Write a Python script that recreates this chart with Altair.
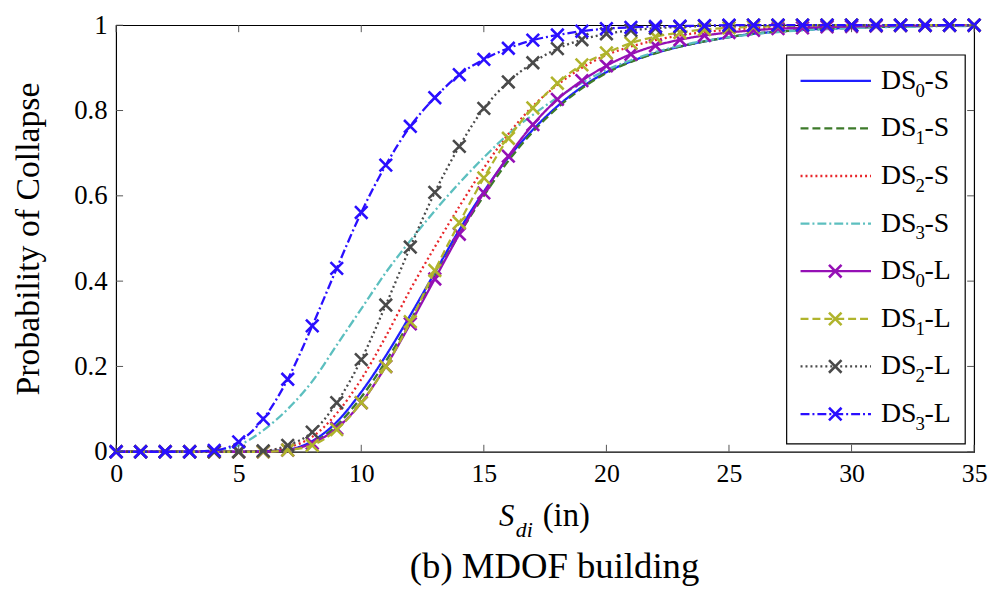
import altair as alt
import pandas as pd

# ---------------- data ----------------
x_vals = list(range(36))
names = ["DS0-S", "DS1-S", "DS2-S", "DS3-S", "DS0-L", "DS1-L", "DS2-L", "DS3-L"]

ds0_s = [0, 0, 0, 0, 0, 0, 0.001, 0.005, 0.025, 0.07, 0.14, 0.225, 0.32, 0.42, 0.52, 0.61, 0.69, 0.755,
         0.81, 0.855, 0.89, 0.915, 0.935, 0.95, 0.962, 0.972, 0.98, 0.985, 0.989, 0.992, 0.994, 0.996,
         0.997, 0.998, 0.999, 0.999]
ds1_s = [0, 0, 0, 0, 0, 0, 0.001, 0.004, 0.02, 0.062, 0.128, 0.212, 0.307, 0.41, 0.51, 0.6, 0.682, 0.75,
         0.806, 0.852, 0.888, 0.914, 0.934, 0.95, 0.962, 0.972, 0.98, 0.985, 0.989, 0.992, 0.994, 0.996,
         0.997, 0.998, 0.999, 0.999]
ds2_s = [0, 0, 0, 0, 0, 0, 0.002, 0.01, 0.035, 0.09, 0.17, 0.27, 0.38, 0.48, 0.575, 0.665, 0.745, 0.81,
         0.86, 0.9, 0.93, 0.95, 0.965, 0.976, 0.984, 0.989, 0.993, 0.995, 0.997, 0.998, 0.999, 0.999,
         1, 1, 1, 1]
ds3_s = [0, 0, 0, 0, 0.003, 0.015, 0.05, 0.1, 0.165, 0.25, 0.335, 0.42, 0.495, 0.565, 0.63, 0.69, 0.745,
         0.79, 0.83, 0.865, 0.895, 0.918, 0.937, 0.952, 0.963, 0.972, 0.979, 0.984, 0.988, 0.991, 0.993,
         0.995, 0.996, 0.997, 0.998, 0.998]
ds0_l = [0, 0, 0, 0, 0, 0, 0, 0.004, 0.02, 0.055, 0.115, 0.2, 0.3, 0.405, 0.51, 0.607, 0.693, 0.767,
         0.826, 0.87, 0.905, 0.932, 0.952, 0.966, 0.976, 0.983, 0.988, 0.992, 0.994, 0.996, 0.997, 0.998,
         0.999, 0.999, 1, 1]
ds1_l = [0, 0, 0, 0, 0, 0, 0, 0.004, 0.015, 0.052, 0.115, 0.2, 0.305, 0.425, 0.537, 0.642, 0.735, 0.806,
         0.864, 0.907, 0.935, 0.958, 0.973, 0.983, 0.99, 0.994, 0.996, 0.998, 0.999, 1, 1, 1, 1, 1, 1, 1]
ds2_l = [0, 0, 0, 0, 0, 0, 0.002, 0.015, 0.046, 0.115, 0.216, 0.344, 0.48, 0.608, 0.716, 0.805, 0.867,
         0.912, 0.945, 0.966, 0.98, 0.988, 0.993, 0.996, 0.998, 0.999, 1, 1, 1, 1, 1, 1, 1, 1, 1, 1]
ds3_l = [0, 0, 0, 0, 0.003, 0.023, 0.077, 0.17, 0.295, 0.43, 0.561, 0.672, 0.763, 0.83, 0.884, 0.92,
         0.946, 0.965, 0.977, 0.986, 0.992, 0.995, 0.997, 0.998, 0.999, 1, 1, 1, 1, 1, 1, 1, 1, 1, 1, 1]

series_values = [ds0_s, ds1_s, ds2_s, ds3_s, ds0_l, ds1_l, ds2_l, ds3_l]
with_markers = [False, False, False, False, True, True, True, True]

legend_base = ["DS"] * 8
legend_sub = ["0", "1", "2", "3", "0", "1", "2", "3"]
legend_suffix = ["-S", "-S", "-S", "-S", "-L", "-L", "-L", "-L"]

x_ticks = [0, 5, 10, 15, 20, 25, 30, 35]
y_ticks = [0, 0.2, 0.4, 0.6, 0.8, 1]

# ---------------- styles ----------------
colors = ["#1f1fff", "#3d7a2a", "#e8262a", "#5cbfbf", "#9510b5", "#b0b42c", "#4a4a4a", "#2a0fff"]
dashes = [[1, 0], [8, 4], [2, 3], [9, 3, 2, 3], [1, 0], [8, 4], [2, 3], [9, 3, 2, 3]]
FONT = "Liberation Serif"
W, H = 865, 430
XMARK = "M-1,-1L1,1M-1,1L1,-1"

xs = alt.Scale(domain=[0, 35], nice=False, zero=False)
ys = alt.Scale(domain=[0, 1], nice=False, zero=False)
cscale = alt.Scale(domain=names, range=colors)
dscale = alt.Scale(domain=names, range=dashes)

XAXIS = alt.Axis(values=x_ticks, labelFont=FONT, labelFontSize=26, labelColor="black", labelFlush=False,
                 tickSize=0, domain=False, grid=False, labelPadding=9, title=None)
YAXIS = alt.Axis(values=y_ticks, format="~g", labelFont=FONT, labelFontSize=27, labelColor="black",
                 labelFlush=False, tickSize=0, domain=False, grid=False, labelPadding=9,
                 title="Probability of Collapse", titleFont=FONT, titleFontSize=34,
                 titleFontWeight="normal", titleColor="black", titlePadding=28)

rows = []
for n, vals in zip(names, series_values):
    for xv, yv in zip(x_vals, vals):
        rows.append({"x": xv, "y": yv, "series": n})
df = pd.DataFrame(rows)

layers = []
first = True
for n, mk in zip(names, with_markers):
    sub = df[df.series == n]
    line = alt.Chart(sub).mark_line(interpolate="monotone", strokeWidth=2.3).encode(
        x=alt.X("x:Q", scale=xs, axis=XAXIS),
        y=alt.Y("y:Q", scale=ys, axis=YAXIS if first else None),
        color=alt.Color("series:N", scale=cscale, legend=None),
        strokeDash=alt.StrokeDash("series:N", scale=dscale, legend=None),
    )
    layers.append(line)
    first = False
    if mk:
        pts = alt.Chart(sub).mark_point(shape=XMARK, size=160, filled=False, strokeWidth=2.6, opacity=1).encode(
            x=alt.X("x:Q", scale=xs, axis=XAXIS),
            y=alt.Y("y:Q", scale=ys, axis=None),
            color=alt.Color("series:N", scale=cscale, legend=None),
        )
        layers.append(pts)

# inward ticks on all four sides
xt = pd.DataFrame({"x": x_ticks})
yt = pd.DataFrame({"v": y_ticks})
tick_color = "#555555"
layers.append(alt.Chart(xt).mark_rule(color=tick_color, strokeWidth=1).encode(
    x=alt.X("x:Q", scale=xs, axis=XAXIS), y=alt.value(H), y2=alt.value(H - 7)))
layers.append(alt.Chart(xt).mark_rule(color=tick_color, strokeWidth=1).encode(
    x=alt.X("x:Q", scale=xs, axis=XAXIS), y=alt.value(0), y2=alt.value(7)))
layers.append(alt.Chart(yt).mark_rule(color=tick_color, strokeWidth=1).encode(
    y=alt.Y("v:Q", scale=ys, axis=None), x=alt.value(0), x2=alt.value(7)))
layers.append(alt.Chart(yt).mark_rule(color=tick_color, strokeWidth=1).encode(
    y=alt.Y("v:Q", scale=ys, axis=None), x=alt.value(W), x2=alt.value(W - 7)))

# custom legend
leg = pd.DataFrame({"series": names, "base": legend_base, "sub": legend_sub, "suffix": legend_suffix,
                    "mk": with_markers})
lscale = alt.Scale(type="point", domain=names, range=[56, 392], padding=0)
ly = alt.Y("series:N", scale=lscale, axis=None)
layers.append(alt.Chart(pd.DataFrame({"a": [0]})).mark_rect(fill="white", stroke="black", strokeWidth=1.2).encode(
    x=alt.value(676), x2=alt.value(856), y=alt.value(30), y2=alt.value(422)))
layers.append(alt.Chart(leg).mark_rule(strokeWidth=2.3).encode(
    x=alt.value(690), x2=alt.value(761), y=ly,
    color=alt.Color("series:N", scale=cscale, legend=None),
    strokeDash=alt.StrokeDash("series:N", scale=dscale, legend=None)))
layers.append(alt.Chart(leg[leg.mk]).mark_point(shape=XMARK, size=160, filled=False, strokeWidth=2.6, opacity=1).encode(
    x=alt.value(725), y=ly, color=alt.Color("series:N", scale=cscale, legend=None)))
layers.append(alt.Chart(leg).mark_text(font=FONT, fontSize=28, align="left", baseline="middle", color="black").encode(
    x=alt.value(771), y=ly, text="base:N"))
layers.append(alt.Chart(leg).mark_text(font=FONT, fontSize=19, align="left", baseline="middle", color="black", dy=10).encode(
    x=alt.value(806), y=ly, text="sub:N"))
layers.append(alt.Chart(leg).mark_text(font=FONT, fontSize=28, align="left", baseline="middle", color="black").encode(
    x=alt.value(815), y=ly, text="suffix:N"))

# x-axis title S_di (in) and caption
layers.append(alt.Chart(pd.DataFrame({"t": ["S"]})).mark_text(
    font=FONT, fontSize=31, fontStyle="italic", align="left", baseline="alphabetic", color="black").encode(
    x=alt.value(386), y=alt.value(505), text="t:N"))
layers.append(alt.Chart(pd.DataFrame({"t": ["di"]})).mark_text(
    font=FONT, fontSize=22, fontStyle="italic", align="left", baseline="alphabetic", color="black").encode(
    x=alt.value(403), y=alt.value(516), text="t:N"))
layers.append(alt.Chart(pd.DataFrame({"t": ["(in)"]})).mark_text(
    font=FONT, fontSize=33, align="left", baseline="alphabetic", color="black").encode(
    x=alt.value(430), y=alt.value(505), text="t:N"))
layers.append(alt.Chart(pd.DataFrame({"t": ["(b) MDOF building"]})).mark_text(
    font=FONT, fontSize=37, align="center", baseline="alphabetic", color="black").encode(
    x=alt.value(442), y=alt.value(557), text="t:N"))

chart = alt.layer(*layers).resolve_scale(y="independent").properties(
    width=W, height=H,
    autosize=alt.AutoSizeParams(type="none"),
    padding={"left": 109, "top": 15, "right": 16, "bottom": 135},
    background="white",
).configure_view(stroke="black", strokeWidth=1.2)

chart.save("out.html", embed_options={"renderer": "svg", "actions": False})
